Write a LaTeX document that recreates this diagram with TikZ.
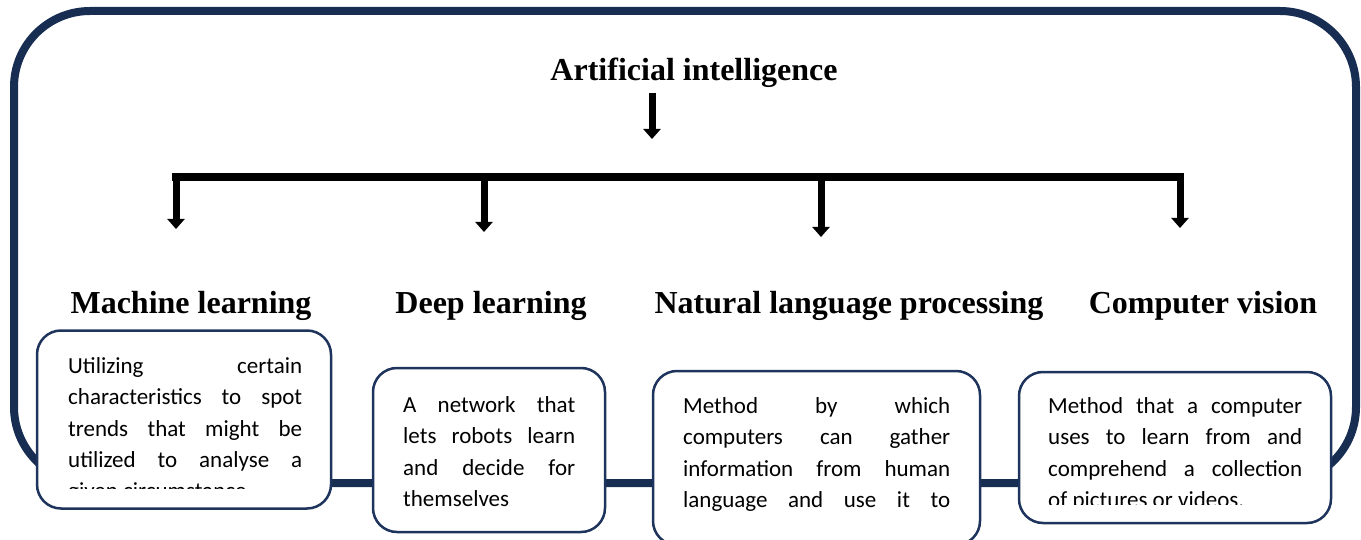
\documentclass[tikz,border=0pt]{standalone}
\usepackage{fontspec}
\setmainfont{Liberation Serif}
\newfontfamily\cuerpo{Carlito}
\usepackage{tikz}
\usetikzlibrary{arrows.meta, positioning}

\definecolor{marino}{RGB}{24, 45, 82}
\definecolor{marinocaja}{RGB}{30, 52, 92}

\tikzset{
  marco/.style={draw=marino, line width=8pt, rounded corners=76pt},
  caja/.style={draw=marinocaja, line width=2.5pt, fill=white, rounded corners=24pt},
  titulo/.style={font=\fontsize{32}{36}\selectfont\bfseries, inner sep=0pt},
  rama/.style={font=\fontsize{32}{36}\selectfont\bfseries, inner sep=0pt, anchor=base},
  texto/.style={font=\cuerpo\fontsize{23}{31.5}\selectfont, align=justify,
                inner sep=0pt, anchor=base west,
                execute at begin node={\tolerance=10000\hyphenpenalty=10000}},
  barra/.style={line width=8pt, black},
  flecha/.style={line width=7pt, black, -{Triangle[width=17pt, length=10pt]}}
}

\begin{document}
\begin{tikzpicture}[x=1pt, y=-1pt]
  \useasboundingbox (0,0) rectangle (1361,540);

  % outer frame
  \draw[marco] (14,11) rectangle (1356,483);

  % title and the main arrow
  \node[titulo, anchor=base] (ia) at (694,81) {Artificial intelligence};
  \coordinate (ini) at (652,93);
  \coordinate (fin) at (652,139);
  \draw[flecha] (ini) -- (fin);

  % branch bar
  \coordinate (izq) at (172,177.5);
  \coordinate (der) at (1184,177.5);
  \draw[barra] (izq) -- (der);
  \foreach \x/\y [count=\i] in {176/229, 484/232, 821/237, 1180/228} {
    \coordinate (s\i) at (\x,174);
    \coordinate (e\i) at (\x,\y);
    \draw[flecha] (s\i) -- (e\i);
  }

  % branch names
  \node[rama] (ml) at (191,313) {Machine learning};
  \node[rama] (dl) at (491,313) {Deep learning};
  \node[rama] (nlp) at (849,313) {Natural language processing};
  \node[rama] (cv) at (1203,313) {Computer vision};

  % description boxes
  \node[caja, minimum width=294pt, minimum height=178pt] (c1) at (184,419.5) {};
  \node[caja, minimum width=232pt, minimum height=164pt] (c2) at (489,450) {};
  \node[caja, minimum width=327pt, minimum height=174pt] (c3) at (816.5,458) {};
  \node[caja, minimum width=312pt, minimum height=151pt] (c4) at (1175,447.5) {};

  \begin{scope}
    \clip (37,330) rectangle (331,488);
    \node[texto, text width=234pt] (t1) at (68,373)
      {Utilizing certain\linebreak characteristics to spot\linebreak trends that might be\linebreak utilized to analyse a\linebreak given circumstance.};
  \end{scope}
  \node[texto, text width=172pt] (t2) at (403,412)
    {A network that\linebreak lets robots learn\linebreak and decide for\linebreak themselves};
  \begin{scope}
    \clip (653,371) rectangle (980,525);
    \node[texto, text width=267pt] (t3) at (683,413)
      {Method by which\linebreak computers can gather\linebreak information from human\linebreak language and use it to\linebreak\null};
  \end{scope}
  \begin{scope}
    \clip (1019,372) rectangle (1331,504);
    \node[texto, text width=254pt] (t4) at (1048,413)
      {Method that a computer\linebreak uses to learn from and\linebreak comprehend a collection\linebreak of pictures or videos.};
  \end{scope}
\end{tikzpicture}
\end{document}
